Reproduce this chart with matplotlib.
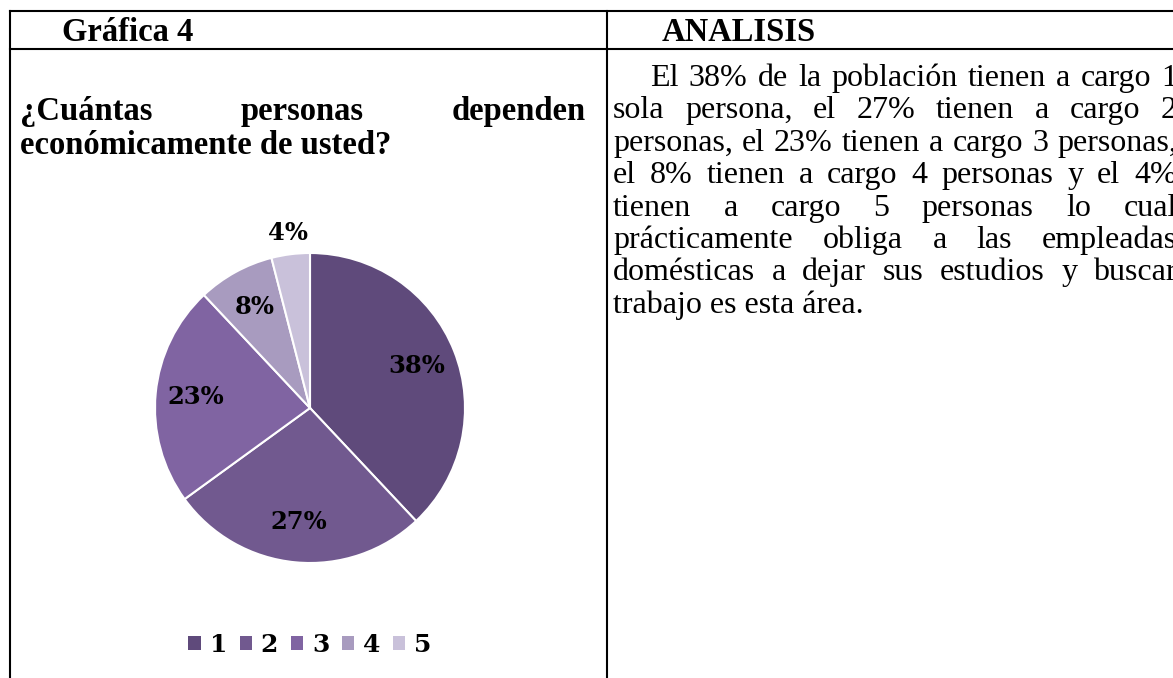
import matplotlib
matplotlib.use("Agg")
import matplotlib.pyplot as plt
import numpy as np

# Data
categorias = ["1", "2", "3", "4", "5"]
porcentajes = [38, 27, 23, 8, 4]
colores = ["#5f4a7b", "#71598f", "#8064a2", "#a89bbf", "#c9c1da"]

titulo_izq = "Gráfica 4"
titulo_der = "ANALISIS"
pregunta = [["¿Cuántas", "personas", "dependen"], "económicamente de usted?"]
analisis = [
    "El 38% de la población tienen a cargo 1",
    "sola persona, el 27% tienen a cargo 2",
    "personas, el 23% tienen a cargo 3 personas,",
    "el 8% tienen a cargo 4 personas y el 4%",
    "tienen a cargo 5 personas lo cual",
    "prácticamente obliga a las empleadas",
    "domésticas a dejar sus estudios y buscar",
]
ultima_linea = "trabajo es esta área."

W, H = 1173, 678
fig = plt.figure(figsize=(W / 100, H / 100), dpi=100)
fig.patch.set_facecolor("white")

# overlay in pixel coordinates for the table and text
ax = fig.add_axes([0, 0, 1, 1])
ax.set_xlim(0, W)
ax.set_ylim(H, 0)
ax.axis("off")
renderer = fig.canvas.get_renderer()

lw = 1.5
ax.plot([10, W], [11, 11], color="black", lw=lw)
ax.plot([10, W], [49, 49], color="black", lw=lw)
ax.plot([10, 10], [11, H], color="black", lw=lw)
ax.plot([607, 607], [11, H], color="black", lw=lw)

serif = "Liberation Serif"
head_kw = dict(family=serif, fontsize=23.5, fontweight="bold", va="baseline")
body_kw = dict(family=serif, fontsize=23, va="baseline")

ax.text(62, 41, titulo_izq, **head_kw)
ax.text(662, 41, titulo_der, **head_kw)


def justify(words, x0, x1, y, **kw):
    ts = [ax.text(0, y, w, **kw) for w in words]
    ws = [t.get_window_extent(renderer).width for t in ts]
    gap = (x1 - x0 - sum(ws)) / (len(words) - 1)
    x = x0
    for t, w in zip(ts, ws):
        t.set_x(x)
        x += w + gap


justify(pregunta[0], 20, 586, 120, **head_kw)
ax.text(20, 154, pregunta[1], **head_kw)

y0, step = 86, 32.4
for i, line in enumerate(analisis):
    x_start = 650 if i == 0 else 613
    justify(line.split(), x_start, 1177, y0 + i * step, **body_kw)
ax.text(613, y0 + len(analisis) * step, ultima_linea, **body_kw)

# pie chart, center (310, 408), radius 155 px
cx, cy, r = 310, 408, 155
pax = fig.add_axes([(cx - r) / W, (H - cy - r) / H, 2 * r / W, 2 * r / H])
wedges, texts, autotexts = pax.pie(
    porcentajes, colors=colores, startangle=90, counterclock=False,
    autopct="%1.0f%%", pctdistance=0.74, radius=1,
    wedgeprops=dict(edgecolor="white", linewidth=1.5),
    textprops=dict(family="DejaVu Serif", fontweight="bold", fontsize=17.5, color="black"),
)
pax.set_xlim(-1, 1)
pax.set_ylim(-1, 1)
pax.set_aspect("equal")

# small slice label sits outside
w5 = wedges[-1]
ang = np.deg2rad((w5.theta1 + w5.theta2) / 2)
autotexts[-1].set_position((1.14 * np.cos(ang), 1.14 * np.sin(ang)))
for t in autotexts:
    t.set_clip_on(False)

leg = pax.legend(
    wedges, categorias, ncol=5, loc="center",
    bbox_to_anchor=(0.5, (H - 645 - (H - cy - r)) / (2 * r)),
    frameon=False, handlelength=0.5, handleheight=0.5, handletextpad=0.35,
    columnspacing=0.5, prop=dict(family="DejaVu Serif", weight="bold", size=18),
)
for h in leg.legend_handles:
    h.set_edgecolor("none")

fig.savefig("out.png", dpi=100)
